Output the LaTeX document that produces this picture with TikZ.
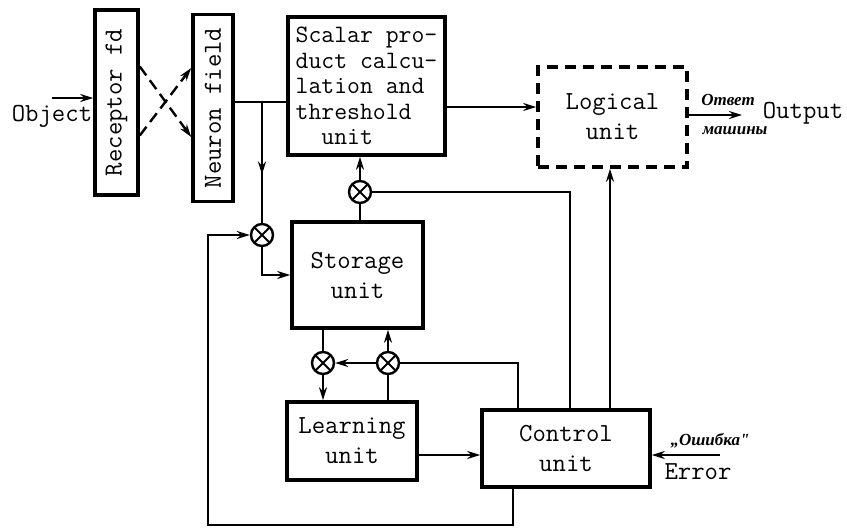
\documentclass[tikz,border=0pt]{standalone}
\usepackage{fontspec}
\newfontfamily\cyrfont{Liberation Serif}
\usetikzlibrary{arrows.meta,positioning,decorations.markings}

\newcommand{\typew}{\ttfamily\fontsize{26}{30}\selectfont}

\begin{document}
\begin{tikzpicture}[x=1pt, y=-1pt,
    unitbox/.style={
        rectangle, draw, line width=3.6pt,
        align=center, inner sep=2pt, font=\typew
    },
    multnode/.style={
        circle, draw, line width=2.4pt, minimum size=22pt, inner sep=0pt,
        path picture={
            \draw[line width=2pt] (path picture bounding box.north west) -- (path picture bounding box.south east)
                (path picture bounding box.north east) -- (path picture bounding box.south west);
        }
    },
    conn/.style={line width=2.4pt},
    arrow/.style={conn, -{Stealth[length=13pt,width=8pt]}},
    midarrow/.style={conn, postaction={decorate},
        decoration={markings, mark=at position 0.6 with {\arrow{Stealth[length=13pt,width=8pt]}}}},
    dasharrow/.style={arrow, dash pattern=on 11pt off 6pt},
    plainlabel/.style={font=\typew, inner sep=0pt},
    cyrlabel/.style={font=\cyrfont\itshape\bfseries\fontsize{17}{17}\selectfont, inner sep=0pt}
]
\useasboundingbox (0,0) rectangle (847,531);

% Blocks
\node[unitbox, minimum width=43pt, minimum height=185pt] (rec) at (116.5,102.5) {\rotatebox{90}{Receptor fd}};
\node[unitbox, minimum width=40pt, minimum height=187pt] (neu) at (213,108) {\rotatebox{90}{Neuron field}};
\node[unitbox, minimum width=157pt, minimum height=138pt, align=left,
      font=\ttfamily\fontsize{25}{25.5}\selectfont] (scal) at (366.5,86) {
    Scalar pro-\\
    duct calcu-\\
    lation and\\
    threshold\\
    \phantom{th}unit
};
\node[unitbox, dash pattern=on 11pt off 7pt, minimum width=149pt, minimum height=100pt] (log) at (612.5,117) {Logical\\unit};
\node[unitbox, minimum width=131pt, minimum height=106pt] (sto) at (357.5,275) {Storage\\unit};
\node[unitbox, minimum width=130pt, minimum height=78pt] (lea) at (352,441) {Learning\\unit};
\node[unitbox, minimum width=168pt, minimum height=77pt] (con) at (566,448.5) {Control\\unit};

% Multipliers
\node[multnode] (m1) at (262,235) {};
\node[multnode] (m2) at (360,192) {};
\node[multnode] (m3) at (323,363) {};
\node[multnode] (m4) at (388,363) {};

% Labels
\node[plainlabel] (obj) at (52,116) {Object};
\node[plainlabel] (outlbl) at (803,113) {Output};
\node[cyrlabel] (otv) at (728,100) {Ответ};
\node[cyrlabel] (mash) at (735,131) {машины};
\node[cyrlabel] (osh) at (710,441) {„Ошибка"};
\node[plainlabel] (errlbl) at (698,472) {Error};

% Helper coordinates
\coordinate (objin) at (52,98);
\coordinate (nf) at ([yshift=6pt]neu.east);
\coordinate (sl) at ([yshift=-21pt]scal.east);
\coordinate (lo) at ([yshift=2pt]log.east);
\coordinate (outend) at (742,115);
\coordinate (lc) at ([yshift=-14pt]lea.east);
\coordinate (errin) at (720,455);
\coordinate (xa) at (518,0);
\coordinate (xb) at (570,0);
\coordinate (xc) at (610,0);
\coordinate (loopR) at (513,525);
\coordinate (loopL) at (208,525);

% Input side
\draw[arrow] (objin) -- (objin -| rec.west);
\draw[dasharrow] ([yshift=36pt]rec.east) -- ([yshift=-29pt]neu.west);
\draw[dasharrow] ([yshift=-33pt]rec.east) -- ([yshift=40pt]neu.west);
\draw[conn] (nf) -- (nf -| scal.west);
\draw[midarrow] (m1 |- nf) -- (m1.north);
\draw[arrow] (m1.south) |- (sto.west);

% Scalar product and logical unit
\draw[arrow] (sl) -- (sl -| log.west);
\draw[arrow] (lo) -- (outend);
\draw[conn] (sto.north -| m2) -- (m2.south);
\draw[arrow] (m2.north) -- (m2 |- scal.south);
\draw[conn] (m2.east) -| (xb |- con.north);

% Storage and learning
\draw[conn] (sto.south -| m3) -- (m3.north);
\draw[arrow] (m3.south) -- (m3 |- lea.north);
\draw[conn] (lea.north -| m4) -- (m4.south);
\draw[arrow] (m4.north) -- (m4 |- sto.south);
\draw[arrow] (m4.west) -- (m3.east);
\draw[conn] (m4.east) -| (xa |- con.north);
\draw[arrow] (lc) -- (lc -| con.west);

% Control unit
\draw[arrow] (xc |- con.north) -- (xc |- log.south);
\draw[arrow] (errin) -- (errin -| con.east);
\draw[arrow] (loopR |- con.south) -- (loopR) -- (loopL) |- (m1.west);

\end{tikzpicture}
\end{document}
